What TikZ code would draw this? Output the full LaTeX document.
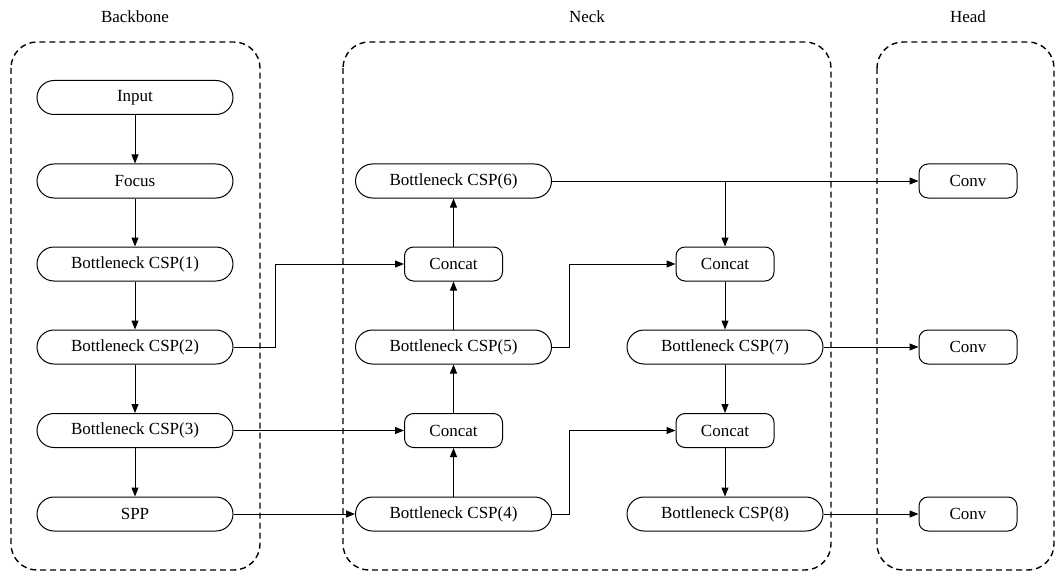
\documentclass[tikz,border=0pt]{standalone}
\usepackage{fontspec}
\setmainfont{Liberation Serif}
\usetikzlibrary{arrows.meta}
\begin{document}
\begin{tikzpicture}[x=1pt,y=-1pt,
  font=\fontsize{17}{20}\selectfont,
  pill/.style={draw,line width=1pt,rounded corners=17pt,minimum width=196pt,minimum height=34pt,inner sep=0pt},
  tag/.style={draw,line width=1pt,rounded corners=9pt,minimum width=98pt,minimum height=34pt,inner sep=0pt},
  group/.style={draw,line width=1.4pt,dash pattern=on 6pt off 4pt,rounded corners=26pt},
  flow/.style={line width=1pt,-{Triangle[length=9pt,width=7pt]}},
  link/.style={line width=1pt}]
\useasboundingbox (0,0) rectangle (1056,572);

% dashed section frames and titles
\draw[group] (11,42) rectangle (260,570);
\draw[group] (343,42) rectangle (831,570);
\draw[group] (877,42) rectangle (1054,570);
\node (tbb) at (135,16.5) {Backbone};
\node (tnk) at (587,16.5) {Neck};
\node (thd) at (968,16.5) {Head};

% backbone column
\node[pill] (in)  at (135,97.5)  {Input};
\node[pill] (foc) at (135,181)   {Focus};
\node[pill] (b1)  at (135,264)   {Bottleneck CSP(1)};
\node[pill] (b2)  at (135,347)   {Bottleneck CSP(2)};
\node[pill] (b3)  at (135,430.5) {Bottleneck CSP(3)};
\node[pill] (spp) at (135,514)   {SPP};

% neck, left column
\node[pill] (b6) at (453.5,181)   {Bottleneck CSP(6)};
\node[tag]  (c1) at (453.5,264)   {Concat};
\node[pill] (b5) at (453.5,347)   {Bottleneck CSP(5)};
\node[tag]  (c2) at (453.5,430.5) {Concat};
\node[pill] (b4) at (453.5,514)   {Bottleneck CSP(4)};

% neck, right column
\node[tag]  (c3) at (725,264)   {Concat};
\node[pill] (b7) at (725,347)   {Bottleneck CSP(7)};
\node[tag]  (c4) at (725,430.5) {Concat};
\node[pill] (b8) at (725,514)   {Bottleneck CSP(8)};

% head
\node[tag] (o1) at (968,181) {Conv};
\node[tag] (o2) at (968,347) {Conv};
\node[tag] (o3) at (968,514) {Conv};

% backbone flow
\draw[flow] (in) -- (foc);
\draw[flow] (foc) -- (b1);
\draw[flow] (b1) -- (b2);
\draw[flow] (b2) -- (b3);
\draw[flow] (b3) -- (spp);

% backbone to neck
\draw[flow] (b2.east) -- (275,347) |- (c1.west);
\draw[flow] (b3.east) -- (c2.west);
\draw[flow] (spp.east) -- (b4.west);

% upward path in the neck
\draw[flow] (b4) -- (c2);
\draw[flow] (c2) -- (b5);
\draw[flow] (b5) -- (c1);
\draw[flow] (c1) -- (b6);

% lateral links to the right column
\draw[flow] (b5.east) -- (569,347) |- (c3.west);
\draw[flow] (b4.east) -- (569,514) |- (c4.west);

% top output and its branch
\coordinate (split) at (725,181);
\draw[flow] (b6.east) -- (o1.west);
\draw[flow] (split) -- (c3.north);

% downward path in the right column
\draw[flow] (c3) -- (b7);
\draw[flow] (b7) -- (c4);
\draw[flow] (c4) -- (b8);

% head outputs
\draw[flow] (b7.east) -- (o2.west);
\draw[flow] (b8.east) -- (o3.west);
\end{tikzpicture}
\end{document}
